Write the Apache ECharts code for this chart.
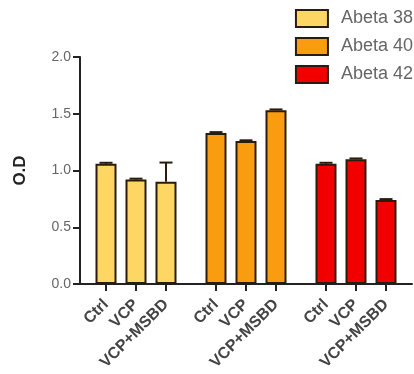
<!DOCTYPE html>
<html>
<head>
<meta charset="utf-8">
<script src="https://cdn.jsdelivr.net/npm/echarts@6/dist/echarts.min.js"></script>
<style>html,body{margin:0;padding:0;background:#fff;}#c{width:414px;height:374px;}</style>
</head>
<body>
<div id="c"></div>
<script>
const categories = ['Ctrl', 'VCP', 'VCP+MSBD'];
const seriesNames = ['Abeta 38', 'Abeta 40', 'Abeta 42'];
const abeta38 = [1.06, 0.92, 0.90];
const abeta40 = [1.33, 1.26, 1.53];
const abeta42 = [1.06, 1.10, 0.74];
const err38 = [0.008, 0.008, 0.17];
const err40 = [0.008, 0.006, 0.008];
const err42 = [0.008, 0.006, 0.008];
const yTickLabels = ['0.0', '0.5', '1.0', '1.5', '2.0'];

const colors = ['#FDD663', '#FA9C10', '#F20000'];
const values = [abeta38, abeta40, abeta42];
const errs = [err38, err40, err42];

// slot index on a linear x scale: groups of 3 bars, gap between groups
const slot = (g, i) => g * 11 + i * 3;
const tickPos = [];
const tickName = {};
for (let g = 0; g < 3; g++) for (let i = 0; i < 3; i++) { const p = slot(g, i); tickPos.push(p); tickName[p] = categories[i]; }

const font = 'Arial, "Liberation Sans", sans-serif';
const dark = '#2a1c0c';
const series = [];
values.forEach((vals, g) => {
  series.push({
    name: seriesNames[g], type: 'bar', barWidth: 21, barGap: '-100%',
    itemStyle: { color: colors[g], borderColor: dark, borderWidth: 2 },
    data: vals.map((v, i) => [slot(g, i), v])
  });
});
const errData = [];
values.forEach((vals, g) => vals.forEach((v, i) => errData.push([slot(g, i), v, errs[g][i]])));
series.push({
  type: 'custom', silent: true, z: 5,
  data: errData,
  renderItem: function (params, api) {
    const x = api.value(0), y = api.value(1), e = api.value(2);
    const p0 = api.coord([x, y]);
    const p1 = api.coord([x, y + e]);
    const half = 6.5;
    return {
      type: 'group',
      children: [
        { type: 'line', shape: { x1: p0[0], y1: p0[1], x2: p1[0], y2: p1[1] }, style: { stroke: dark, lineWidth: 2 } },
        { type: 'line', shape: { x1: p1[0] - half, y1: p1[1], x2: p1[0] + half, y2: p1[1] }, style: { stroke: dark, lineWidth: 2 } }
      ]
    };
  }
});

const chart = echarts.init(document.getElementById('c'));
chart.setOption({
  animation: false,
  backgroundColor: '#fff',
  legend: {
    data: seriesNames, orient: 'vertical', right: 1, top: 9, padding: 0,
    icon: 'rect',
    itemWidth: 32, itemHeight: 17, itemGap: 9,
    textStyle: { fontFamily: font, fontSize: 18, color: '#666', padding: [0, 0, 0, 8] }
  },
  grid: { left: 80, right: 2, top: 57, bottom: 90 },
  xAxis: {
    type: 'value', min: -2.6, max: 30.6,
    splitLine: { show: false },
    axisLine: { show: true, onZero: false, lineStyle: { color: '#222', width: 2 } },
    axisTick: { show: true, customValues: tickPos, length: 7, lineStyle: { color: '#222', width: 2 } },
    axisLabel: {
      customValues: tickPos, rotate: 45, margin: 18,
      formatter: v => tickName[v] || '',
      fontFamily: font, fontSize: 16, fontWeight: 'bold', color: '#444'
    }
  },
  yAxis: {
    type: 'value', min: 0, max: 2, interval: 0.5,
    name: 'O.D', nameLocation: 'middle', nameGap: 51, nameRotate: 90,
    nameTextStyle: { fontFamily: font, fontSize: 17, fontWeight: 'bold', color: '#222' },
    splitLine: { show: false },
    axisLine: { show: true, onZero: false, lineStyle: { color: '#222', width: 2 } },
    axisTick: { show: true, length: 7, lineStyle: { color: '#222', width: 2 } },
    axisLabel: {
      margin: 9, fontFamily: font, fontSize: 14, color: '#666',
      formatter: v => yTickLabels[Math.round(v / 0.5)]
    }
  },
  series: series
});
</script>
</body>
</html>
